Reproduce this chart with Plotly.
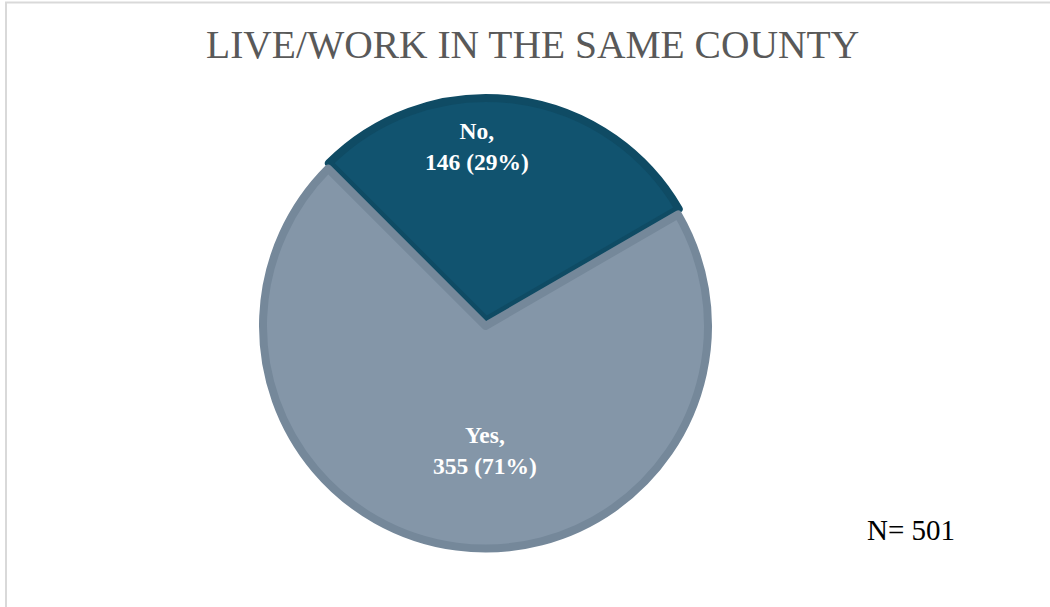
import plotly.graph_objects as go

# Survey responses: do respondents live and work in the same county?
categories = ["No", "Yes"]
counts = [146, 355]
fill_colors = ["#11536F", "#8496A8"]
edge_colors = ["#0F4B64", "#75889A"]

total = sum(counts)
title_text = "LIVE/WORK IN THE SAME COUNTY"

W, H = 1050, 607
cx, cy = 485.5, 326.0          # pie centre in pixels (from top-left)
radius = 222.5
pull_no = 0.025
half_box = radius * (1 + pull_no)

fig = go.Figure(
    go.Pie(
        labels=categories,
        values=counts,
        sort=False,
        direction="clockwise",
        rotation=-45,
        pull=[pull_no, 0],
        marker=dict(colors=fill_colors, line=dict(color=edge_colors, width=8)),
        textinfo="none",
        hoverinfo="label+value+percent",
        showlegend=False,
        domain=dict(
            x=[(cx - half_box) / W, (cx + half_box) / W],
            y=[(H - cy - half_box) / H, (H - cy + half_box) / H],
        ),
    )
)

# Slice labels: "Category,\ncount (pct%)"
label_pos = {"No": (477, 146), "Yes": (485, 450)}
annotations = []
for cat, n in zip(categories, counts):
    px, py = label_pos[cat]
    pct = round(100 * n / total)
    annotations.append(
        dict(
            x=px / W, y=1 - py / H, xref="paper", yref="paper",
            text=f"<b>{cat},<br>{n} ({pct}%)</b>",
            showarrow=False, xanchor="center", yanchor="middle",
            font=dict(family="Liberation Serif, Times New Roman, serif", size=23.5, color="#FFFFFF"),
        )
    )

annotations.append(
    dict(
        x=532.5 / W, y=1 - 45 / H, xref="paper", yref="paper",
        text=title_text, showarrow=False, xanchor="center", yanchor="middle",
        font=dict(family="Liberation Serif, Times New Roman, serif", size=39.5, color="#595959"),
    )
)
annotations.append(
    dict(
        x=865 / W, y=1 - 530 / H, xref="paper", yref="paper",
        text=f"N= {total}", showarrow=False, xanchor="left", yanchor="middle",
        font=dict(family="Liberation Serif, Times New Roman, serif", size=29, color="#000000"),
    )
)

fig.update_layout(
    width=W, height=H,
    margin=dict(l=0, r=0, t=0, b=0),
    paper_bgcolor="#FFFFFF",
    plot_bgcolor="#FFFFFF",
    annotations=annotations,
    shapes=[
        dict(
            type="rect", xref="paper", yref="paper",
            x0=6 / W, x1=1.01, y0=-0.01, y1=1 - 2.5 / H,
            line=dict(color="#D9D9D9", width=2),
            fillcolor="rgba(0,0,0,0)", layer="below",
        )
    ],
)

fig.write_html("out.html")
